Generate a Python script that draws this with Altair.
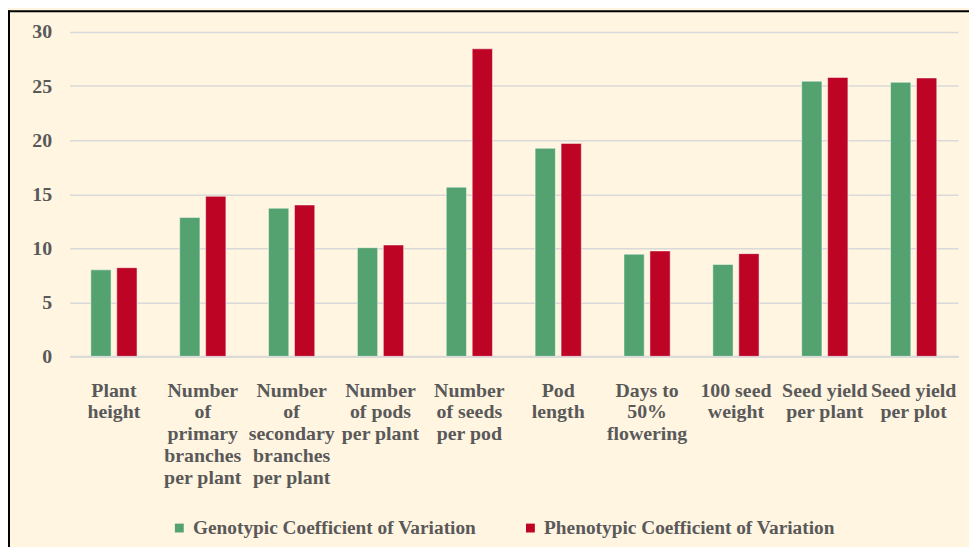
import json
import altair as alt
import pandas as pd

categories = [
    "Plant height",
    "Number of primary branches per plant",
    "Number of secondary branches per plant",
    "Number of pods per plant",
    "Number of seeds per pod",
    "Pod length",
    "Days to 50% flowering",
    "100 seed weight",
    "Seed yield per plant",
    "Seed yield per plot",
]
label_lines = [
    ["Plant", "height"],
    ["Number", "of", "primary", "branches", "per plant"],
    ["Number", "of", "secondary", "branches", "per plant"],
    ["Number", "of pods", "per plant"],
    ["Number", "of seeds", "per pod"],
    ["Pod", "length"],
    ["Days to", "50%", "flowering"],
    ["100 seed", "weight"],
    ["Seed yield", "per plant"],
    ["Seed yield", "per plot"],
]
series = ["Genotypic Coefficient of Variation", "Phenotypic Coefficient of Variation"]
genotypic = [8.0, 12.85, 13.7, 10.05, 15.65, 19.25, 9.45, 8.5, 25.45, 25.35]
phenotypic = [8.2, 14.8, 14.0, 10.3, 28.45, 19.7, 9.75, 9.5, 25.8, 25.75]
colors = ["#53A26F", "#BD0425"]

rows = []
for c, g, p in zip(categories, genotypic, phenotypic):
    rows.append({"trait": c, "series": series[0], "value": g})
    rows.append({"trait": c, "series": series[1], "value": p})
df = pd.DataFrame(rows)

label_map = json.dumps(dict(zip(categories, label_lines)))
FONT = "Liberation Serif"
GRAY = "#595959"

bars = alt.Chart(df).mark_bar(stroke="white", strokeWidth=0.8, strokeOpacity=0.6).encode(
    x=alt.X(
        "trait:N",
        sort=categories,
        title=None,
        scale=alt.Scale(paddingInner=0.48, paddingOuter=0.24),
        axis=alt.Axis(
            labelAngle=0,
            labelExpr=f"{label_map}[datum.value]",
            labelFont=FONT,
            labelFontWeight="bold",
            labelFontSize=20,
            labelColor=GRAY,
            labelLineHeight=22,
            labelBaseline="top",
            labelPadding=24,
            labelLimit=200,
            ticks=False,
            domainColor="#d9d9d9",
            domainWidth=2,
            grid=False,
        ),
    ),
    xOffset=alt.XOffset("series:N", sort=series, scale=alt.Scale(paddingInner=0.22)),
    y=alt.Y(
        "value:Q",
        title=None,
        scale=alt.Scale(domain=[0, 30]),
        axis=alt.Axis(
            values=[0, 5, 10, 15, 20, 25, 30],
            labelFont=FONT,
            labelFontWeight="bold",
            labelFontSize=20,
            labelColor=GRAY,
            labelPadding=18,
            ticks=False,
            domain=False,
            gridColor="#d9d9d9",
            gridWidth=1.5,
        ),
    ),
    color=alt.Color(
        "series:N",
        sort=series,
        scale=alt.Scale(domain=series, range=colors),
        legend=alt.Legend(
            title=None,
            orient="none",
            direction="horizontal",
            legendX=101,
            legendY=490,
            symbolType="square",
            symbolSize=80,
            symbolStrokeWidth=0,
            labelFont=FONT,
            labelFontWeight="bold",
            labelFontSize=19.5,
            labelColor=GRAY,
            labelOffset=4,
            columnPadding=44,
            labelLimit=400,
        ),
    ),
)

border_left = alt.Chart(alt.Data(values=[{}])).mark_rule(color="black", strokeWidth=2).encode(
    x=alt.value(-61), y=alt.value(-22), y2=alt.value(540)
)
border_top = alt.Chart(alt.Data(values=[{}])).mark_rule(color="black", strokeWidth=2).encode(
    y=alt.value(-21), x=alt.value(-62), x2=alt.value(920)
)

chart = alt.layer(bars, border_left, border_top).properties(
    width=896,
    height=327,
    autosize=alt.AutoSizeParams(type="none"),
    padding={"left": 62, "top": 22, "right": 11, "bottom": 190},
    background="#FFF5E1",
).configure_view(stroke=None)

chart.save("out.html", embed_options={"renderer": "svg", "actions": False})
